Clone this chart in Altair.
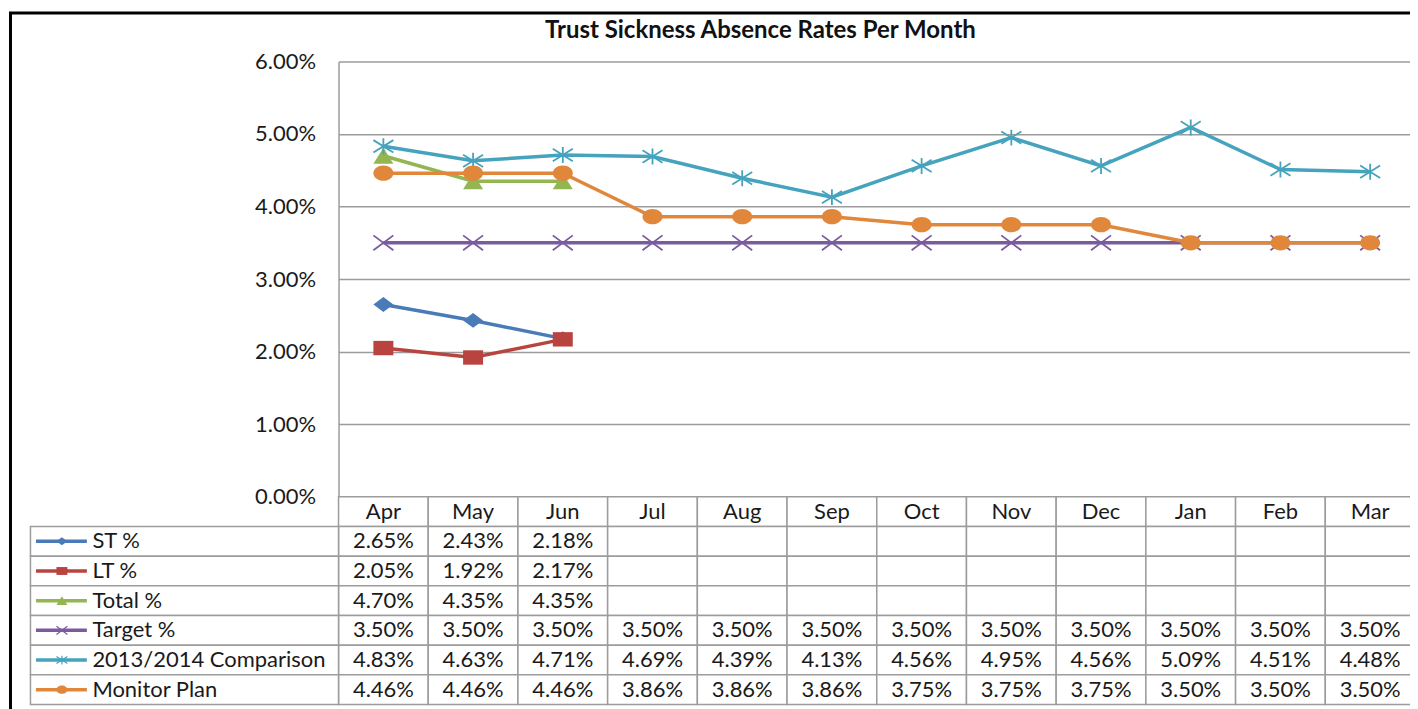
import altair as alt
import pandas as pd

months = ["Apr", "May", "Jun", "Jul", "Aug", "Sep", "Oct", "Nov", "Dec", "Jan", "Feb", "Mar"]
series_names = ["ST %", "LT %", "Total %", "Target %", "2013/2014 Comparison", "Monitor Plan"]

st = [2.65, 2.43, 2.18, None, None, None, None, None, None, None, None, None]
lt = [2.05, 1.92, 2.17, None, None, None, None, None, None, None, None, None]
total = [4.70, 4.35, 4.35, None, None, None, None, None, None, None, None, None]
target = [3.50, 3.50, 3.50, 3.50, 3.50, 3.50, 3.50, 3.50, 3.50, 3.50, 3.50, 3.50]
comparison = [4.83, 4.63, 4.71, 4.69, 4.39, 4.13, 4.56, 4.95, 4.56, 5.09, 4.51, 4.48]
monitor = [4.46, 4.46, 4.46, 3.86, 3.86, 3.86, 3.75, 3.75, 3.75, 3.50, 3.50, 3.50]

title_text = ["Trust Sickness Absence Rates Per Month"]

all_values = [st, lt, total, target, comparison, monitor]
colors = ["#4A7AB8", "#B8433F", "#93B552", "#7A5C9E", "#45A3BE", "#E0873B"]
shapes = [
    "M0,-0.74L1,0L0,0.74L-1,0Z",
    "M-1,-0.72H1V0.72H-1Z",
    "M0,-0.8L1,0.8H-1Z",
    "M-1,-0.75L1,0.75M-1,0.75L1,-0.75",
    "M-1,-0.62L1,0.62M-1,0.62L1,-0.62M0,-0.8L0,0.8",
    "M-1,0A1,0.76 0 1,1 1,0A1,0.76 0 1,1 -1,0Z",
]
filled = [True, True, True, False, False, True]

FONT = "Lato"
FS = 22
W = 1078
PLOT_H = 436
TABLE_H = 208
H = PLOT_H + TABLE_H
GRID = "#9c9c9c"
TXT = "#1a1a1a"

rows = ["hdr"] + series_names

x_point = alt.X("month:N", scale=alt.Scale(type="point", domain=months, padding=0.5), axis=None)
x_band = alt.X("month:N", scale=alt.Scale(type="band", domain=months, paddingInner=0, paddingOuter=0),
               axis=None, bandPosition=0.5)
y_row_scale = alt.Scale(type="band", domain=rows, range=[PLOT_H, H], paddingInner=0, paddingOuter=0)
y_row = alt.Y("row:N", scale=y_row_scale, axis=None, bandPosition=0.5)
y_row_rect = alt.Y("row:N", scale=y_row_scale, axis=None)
x_band_rect = alt.X("month:N", scale=alt.Scale(type="band", domain=months, paddingInner=0, paddingOuter=0),
                    axis=None)

layers = []

# table cells
cells = pd.DataFrame([{"row": r, "month": m} for r in rows for m in months])
layers.append(
    alt.Chart(cells).mark_rect(fill="white", stroke=GRID, strokeWidth=1.5).encode(x=x_band_rect, y=y_row_rect)
)
# legend column cells
leg_rows = pd.DataFrame({"row": series_names})
layers.append(
    alt.Chart(leg_rows).mark_rect(fill="white", stroke=GRID, strokeWidth=1.5).encode(
        x=alt.value(-308.5), x2=alt.value(0), y=y_row_rect)
)

# table texts
recs = [{"row": "hdr", "month": m, "label": m} for m in months]
for name, vals in zip(series_names, all_values):
    for m, v in zip(months, vals):
        if v is not None:
            recs.append({"row": name, "month": m, "label": f"{v:.2f}%"})
layers.append(
    alt.Chart(pd.DataFrame(recs)).mark_text(font=FONT, fontSize=FS, color=TXT, baseline="middle").encode(
        x=x_band, y=y_row, text="label:N")
)
# legend texts
layers.append(
    alt.Chart(leg_rows).mark_text(font=FONT, fontSize=FS, color=TXT, align="left", baseline="middle").encode(
        x=alt.value(-246.5), y=y_row, text="row:N")
)

y_val_scale = alt.Scale(domain=[0, 6], range=[PLOT_H, 0], nice=False, zero=True)
y_axis = alt.Axis(values=[0, 1, 2, 3, 4, 5, 6], labelExpr="format(datum.value, '.2f') + '%'",
                  title=None, ticks=False, labelPadding=23, grid=True, domain=True,
                  gridColor=GRID, gridWidth=1.5, domainColor=GRID, domainWidth=1.5,
                  labelFont=FONT, labelFontSize=FS, labelColor=TXT)

for i, (name, vals, col, shp, fl) in enumerate(zip(series_names, all_values, colors, shapes, filled)):
    df = pd.DataFrame({"month": months, "value": vals}).dropna()
    if i == 0:
        y_enc = alt.Y("value:Q", scale=y_val_scale, axis=y_axis)
    else:
        y_enc = alt.Y("value:Q", scale=y_val_scale, axis=None)
    line = alt.Chart(df).mark_line(color=col, strokeWidth=3.5).encode(x=x_point, y=y_enc)
    if fl:
        pts = alt.Chart(df).mark_point(shape=shp, size=400, filled=True, color=col, opacity=1).encode(
            x=x_point, y=y_enc)
    else:
        pts = alt.Chart(df).mark_point(shape=shp, size=400, filled=False, color=col, opacity=1,
                                       strokeWidth=1.8).encode(x=x_point, y=y_enc)
    layers.append(alt.layer(line, pts))

    # legend symbol
    ld = pd.DataFrame({"row": [name]})
    lrule = alt.Chart(ld).mark_rule(color=col, strokeWidth=3.5).encode(
        x=alt.value(-303), x2=alt.value(-252), y=y_row)
    if fl:
        lpt = alt.Chart(ld).mark_point(shape=shp, size=120, filled=True, color=col, opacity=1).encode(
            x=alt.value(-277), y=y_row)
    else:
        lpt = alt.Chart(ld).mark_point(shape=shp, size=120, filled=False, color=col, opacity=1,
                                       strokeWidth=1.2).encode(x=alt.value(-277), y=y_row)
    layers.append(lrule)
    layers.append(lpt)

# outer chart frame
frame = alt.Data(values=[{}])
layers.append(alt.Chart(frame).mark_rule(color="black", strokeWidth=3).encode(
    x=alt.value(-328.5), y=alt.value(-48.5), y2=alt.value(650)))
layers.append(alt.Chart(frame).mark_rule(color="black", strokeWidth=3).encode(
    x=alt.value(-330), x2=alt.value(1077), y=alt.value(-48.5)))

# chart title
layers.append(alt.Chart(pd.DataFrame({"t": title_text})).mark_text(
    font=FONT, fontSize=24, fontWeight="bold", color="#111", align="center", baseline="alphabetic").encode(
    x=alt.value(422.5), y=alt.value(-23), text="t:N"))

chart = alt.layer(*layers).resolve_scale(x="independent", y="independent").properties(
    width=W, height=H,
    padding={"left": -1, "top": 3, "right": -6, "bottom": 0},
).configure_view(strokeWidth=0)

chart.save("out.html", embed_options={"renderer": "svg", "actions": False})
